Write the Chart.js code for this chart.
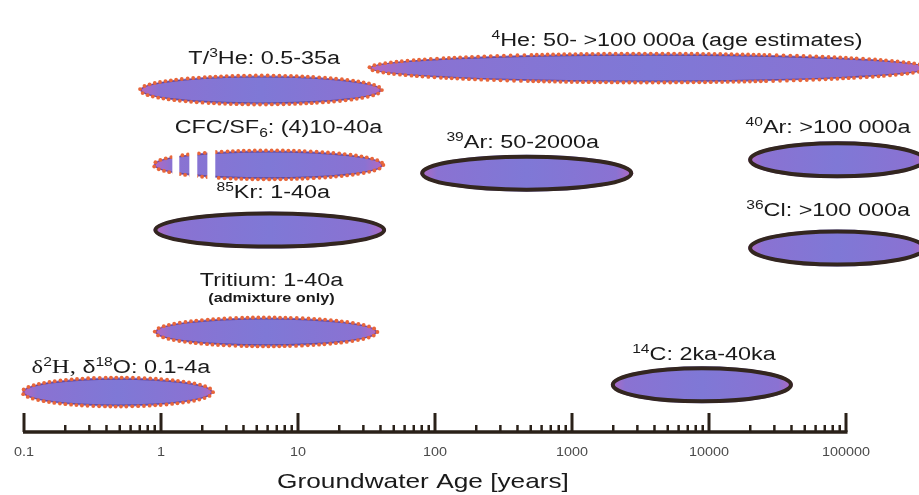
<!DOCTYPE html>
<html>
<head>
<meta charset="utf-8">
<script src="https://cdn.jsdelivr.net/npm/chart.js@4.4.0/dist/chart.umd.min.js"></script>
<style>
  html, body { margin: 0; padding: 0; background: #fff; }
  #wrap { width: 919px; height: 495px; }
</style>
</head>
<body>
<div id="wrap"><canvas id="ageChart"></canvas></div>
<script>
// Trazadores y rangos de edad (años)
const tracers = ["d2H", "Tritium", "85Kr", "CFC/SF6", "T/3He", "4He", "39Ar", "40Ar", "36Cl", "14C"];
const ageMin = [0.097, 0.9, 0.88, 0.88, 0.7, 33, 78, 19300, 19300, 1920];
const ageMax = [2.4, 38, 44, 42, 41, 400000, 2800, 385000, 385000, 41000];
// fila vertical de cada elipse (unidades arbitrarias, 0 = eje)
const rowLevel = [1.11, 2.78, 5.61, 7.42, 9.5, 10.11, 7.19, 7.56, 5.11, 1.31];
// tipo de borde: "dots" = puntos naranjas, "solid" = borde oscuro
const outline = ["dots", "dots", "solid", "dots", "dots", "dots", "solid", "solid", "solid", "solid"];
// textos (^{..} superindice, _{..} subindice, ~{..} con serifa)
const labels = [
    "~{δ}^{2}~{H,} δ^{18}O: 0.1-4a",
    "Tritium: 1-40a",
    "^{85}Kr: 1-40a",
    "CFC/SF_{6}: (4)10-40a",
    "T/^{3}He: 0.5-35a",
    "^{4}He: 50- >100 000a (age estimates)",
    "^{39}Ar: 50-2000a",
    "^{40}Ar: >100 000a",
    "^{36}Cl: >100 000a",
    "^{14}C: 2ka-40ka"
];
// donde va cada texto: edad del centro y fila de la linea base
const labelAge = [0.51, 6.4, 6.6, 7.2, 5.67, 5840, 437, 74000, 74000, 9180];
const labelRow = [1.64, 4.06, 6.5, 8.31, 10.22, 10.72, 7.89, 8.31, 6.0, 2.0];
const noteRow = 3.61; // "(admixture only)"
// tramos blancos del CFC/SF6 (la parte "(4)")
const cfcGaps = [[1.21, 1.36], [1.61, 1.84], [2.18, 2.49]];
const tickDecades = [0.1, 1, 10, 100, 1000, 10000, 100000];

const FONT = "'Liberation Sans', Arial, sans-serif";
const SERIF = "'Liberation Serif', 'Times New Roman', serif";

const dotIdx = [], solidIdx = [];
tracers.forEach((t, i) => (outline[i] === "dots" ? dotIdx : solidIdx).push(i));

function rows(idx) {
    return idx.map((i) => ({ x: [ageMin[i], ageMax[i]], y: rowLevel[i], idx: i }));
}

function ellipsePath(ctx, cx, cy, rx, ry) {
    ctx.beginPath();
    ctx.ellipse(cx, cy, rx, ry, 0, 0, Math.PI * 2);
}

function fillEllipse(ctx, cx, cy, rx, ry) {
    const g = ctx.createLinearGradient(cx - rx, 0, cx + rx, 0);
    g.addColorStop(0, "#b468c2");
    g.addColorStop(0.08, "#8a72d2");
    g.addColorStop(0.5, "#7f78d6");
    g.addColorStop(0.92, "#8a72d2");
    g.addColorStop(1, "#b468c2");
    ellipsePath(ctx, cx, cy, rx, ry);
    ctx.fillStyle = g;
    ctx.fill();
}

// puntos naranjas a lo largo del contorno
function dotOutline(ctx, cx, cy, rx, ry) {
    ellipsePath(ctx, cx, cy, rx - 1.5, ry - 1.5);
    ctx.strokeStyle = "rgba(85,55,135,0.7)";
    ctx.lineWidth = 1.2;
    ctx.stroke();
    const pts = [];
    const n = 900;
    for (let k = 0; k <= n; k++) {
        const a = (k / n) * Math.PI * 2;
        pts.push([cx + rx * Math.cos(a), cy + ry * Math.sin(a)]);
    }
    const step = 5.3;
    let acc = step;
    ctx.fillStyle = "#e8663a";
    for (let k = 1; k < pts.length; k++) {
        acc += Math.hypot(pts[k][0] - pts[k - 1][0], pts[k][1] - pts[k - 1][1]);
        if (acc >= step) {
            acc = 0;
            ctx.beginPath();
            ctx.arc(pts[k][0], pts[k][1], 1.9, 0, Math.PI * 2);
            ctx.fill();
        }
    }
}

// texto con super/subindices, estirado en horizontal como en la figura
function drawRich(ctx, text, x, y, size, stretch) {
    const parts = [];
    const re = /([\^_~])\{([^}]*)\}|([^\^_~]+)/g;
    let m;
    while ((m = re.exec(text))) {
        if (m[3]) parts.push({ t: m[3], k: "n" });
        else parts.push({ t: m[2], k: { "^": "sup", "_": "sub", "~": "serif" }[m[1]] });
    }
    const fontFor = (p) => {
        if (p.k === "serif") return (size + 1) + "px " + SERIF;
        const s = p.k === "n" ? size : Math.round(size * 0.66);
        return s + "px " + FONT;
    };
    let w = 0;
    parts.forEach((p) => { ctx.font = fontFor(p); p.w = ctx.measureText(p.t).width; w += p.w; });
    ctx.save();
    ctx.translate(x, y);
    ctx.scale(stretch, 1);
    let cx = -w / 2;
    ctx.fillStyle = "#1a1a1a";
    ctx.textBaseline = "alphabetic";
    ctx.textAlign = "left";
    parts.forEach((p) => {
        ctx.font = fontFor(p);
        let dy = 0;
        if (p.k === "sup") dy = -size * 0.4;
        if (p.k === "sub") dy = size * 0.25;
        ctx.fillText(p.t, cx, dy);
        cx += p.w;
    });
    ctx.restore();
}

const ellipsePlugin = {
    id: "ellipses",
    afterDatasetsDraw(chart) {
        const ctx = chart.ctx;
        const xs = chart.scales.x;
        const ys = chart.scales.y;
        ctx.save();
        chart.data.datasets.forEach((ds, di) => {
            const meta = chart.getDatasetMeta(di);
            meta.data.forEach((bar, j) => {
                const p = bar.getProps(["x", "y", "base", "height"], true);
                const i = ds.data[j].idx;
                const left = Math.min(p.x, p.base), right = Math.max(p.x, p.base);
                const cx = (left + right) / 2, rx = (right - left) / 2;
                const ry = p.height / 2;
                fillEllipse(ctx, cx, p.y, rx, ry);
                if (outline[i] === "dots") {
                    dotOutline(ctx, cx, p.y, rx, ry);
                } else {
                    ellipsePath(ctx, cx, p.y, rx - 2, ry - 2);
                    ctx.strokeStyle = "#33261f";
                    ctx.lineWidth = 4;
                    ctx.stroke();
                }
                if (tracers[i] === "CFC/SF6") {
                    ctx.fillStyle = "#ffffff";
                    cfcGaps.forEach((g) => {
                        const a = xs.getPixelForValue(g[0]), b = xs.getPixelForValue(g[1]);
                        ctx.fillRect(a, p.y - ry - 3, b - a, p.height + 6);
                    });
                }
                const lx = xs.getPixelForValue(labelAge[i]);
                drawRich(ctx, labels[i], lx, ys.getPixelForValue(labelRow[i]), 18, 1.3);
                if (tracers[i] === "Tritium") {
                    ctx.save();
                    ctx.translate(lx, ys.getPixelForValue(noteRow));
                    ctx.scale(1.25, 1);
                    ctx.font = "bold 13px " + FONT;
                    ctx.textAlign = "center";
                    ctx.fillStyle = "#1a1a1a";
                    ctx.fillText("(admixture only)", 0, 0);
                    ctx.restore();
                }
            });
        });

        // eje: linea gruesa con marcas hacia arriba
        const y0 = xs.top;
        ctx.strokeStyle = "#2a2119";
        ctx.lineWidth = 3.5;
        ctx.beginPath();
        ctx.moveTo(xs.getPixelForValue(tickDecades[0]) - 1, y0);
        ctx.lineTo(xs.getPixelForValue(tickDecades[tickDecades.length - 1]) + 1.5, y0);
        ctx.stroke();
        tickDecades.forEach((d, k) => {
            const px = xs.getPixelForValue(d);
            ctx.lineWidth = 3;
            ctx.beginPath();
            ctx.moveTo(px, y0);
            ctx.lineTo(px, y0 - 19);
            ctx.stroke();
            if (k < tickDecades.length - 1) {
                ctx.lineWidth = 2.5;
                for (let s = 2; s <= 9; s++) {
                    const q = xs.getPixelForValue(d * s);
                    ctx.beginPath();
                    ctx.moveTo(q, y0);
                    ctx.lineTo(q, y0 - 7);
                    ctx.stroke();
                }
            }
            // etiqueta de la decada
            ctx.save();
            ctx.translate(px, y0 + 24);
            ctx.scale(1.2, 1);
            ctx.font = "12px " + FONT;
            ctx.fillStyle = "#4a4a4a";
            ctx.textAlign = "center";
            ctx.textBaseline = "alphabetic";
            ctx.fillText(String(d), 0, 0);
            ctx.restore();
        });

        // titulo del eje
        ctx.save();
        ctx.translate(423, y0 + 56);
        ctx.scale(1.25, 1);
        ctx.font = "21px " + FONT;
        ctx.fillStyle = "#1a1a1a";
        ctx.textAlign = "center";
        ctx.fillText("Groundwater Age [years]", 0, 0);
        ctx.restore();
        ctx.restore();
    }
};

new Chart(document.getElementById("ageChart"), {
    type: "bar",
    data: {
        datasets: [
            { label: "dots", data: rows(dotIdx), barThickness: 29, backgroundColor: "transparent", borderWidth: 0 },
            { label: "solid", data: rows(solidIdx), barThickness: 37, backgroundColor: "transparent", borderWidth: 0 }
        ]
    },
    options: {
        indexAxis: "y",
        responsive: true,
        maintainAspectRatio: false,
        animation: false,
        datasets: { bar: { grouped: false } },
        layout: { padding: { left: 24, right: 73, top: 0, bottom: 63 } },
        plugins: { legend: { display: false }, tooltip: { enabled: false }, colors: { enabled: false } },
        scales: {
            x: {
                type: "logarithmic",
                min: 0.1,
                max: 100000,
                grid: { display: false, drawTicks: false },
                border: { display: false },
                ticks: { display: false }
            },
            y: { type: "linear", min: 0, max: 12, offset: false, display: false }
        }
    },
    plugins: [ellipsePlugin]
});
</script>
</body>
</html>
